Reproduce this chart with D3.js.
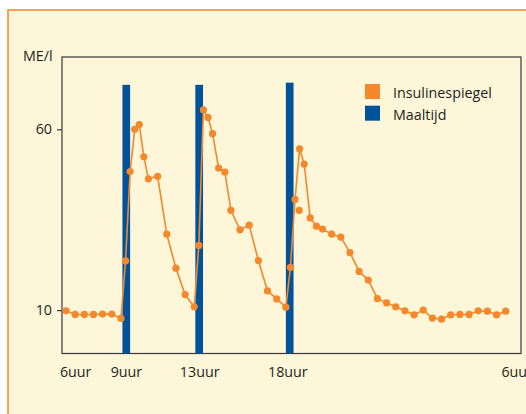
<!DOCTYPE html>
<html>
<head>
<meta charset="utf-8">
<script src="https://cdn.jsdelivr.net/npm/d3@7/dist/d3.min.js"></script>
<style>
  html, body { margin: 0; padding: 0; background: #ffffff; }
  svg { display: block; }
  text { font-family: "Open Sans", Lato, sans-serif; fill: #231f20; }
</style>
</head>
<body>
<svg id="chart" width="526" height="414"></svg>
<script>
// ---- data ----
const hours = [6, 6.5, 7, 7.5, 8, 8.5, 9, 9.25, 9.5, 9.75, 10, 10.25, 10.5, 11, 11.5, 12, 12.5,
  13, 13.25, 13.5, 13.75, 14, 14.33, 14.67, 15, 15.5, 16, 16.5, 17, 17.5,
  18, 18.25, 18.5, 18.75, 19, 19.33, 19.67, 20, 20.5, 21, 21.5, 22, 22.5, 23, 23.5,
  24, 24.5, 25, 25.5, 26, 26.5, 27, 27.5, 28, 28.5, 29, 29.5, 30];
const insuline = [9.8, 8.8, 8.8, 8.8, 8.9, 8.9, 7.7, 23.6, 48.3, 60.0, 61.3, 52.4, 46.3, 47.0, 31.0, 21.6, 14.3,
  10.9, 27.9, 65.4, 63.3, 58.8, 49.3, 48.2, 37.6, 32.2, 33.5, 23.7, 15.3, 13.1,
  10.8, 21.8, 40.6, 54.6, 50.4, 35.5, 33.2, 32.4, 31.0, 30.2, 25.9, 20.7, 18.3, 13.2, 12.0,
  10.9, 9.8, 8.7, 10.0, 7.8, 7.5, 8.7, 8.8, 8.8, 9.8, 9.7, 8.7, 9.7];
// a single measurement drawn as a loose dot (not joined by the line)
const extraHours = [18.73];
const extraValues = [37.6];

const mealHours = [9.08, 13.06, 18.0];
const mealHeights = [72.3, 72.3, 72.9];
const mealDuration = 0.42;

const yTicks = [10, 60];
const xTickHours = [6.5, 9.27, 13.27, 18.08, 30.6];
const xTickLabels = ["6uur", "9uur", "13uur", "18uur", "6uur"];
const legendLabels = ["Insulinespiegel", "Maaltijd"];
const yTitle = "ME/l";

// ---- style ----
const orange = "#f4882a";
const blue = "#00539b";
const cream = "#fdf6d9";
const axisColor = "#3a3a3a";
const fontSize = "14.3px";

const svg = d3.select("#chart");
const W = 526, H = 414;
const frame = { left: 62, top: 57, right: 521, bottom: 353.5 };

// outer panel
svg.append("rect").attr("x", 8).attr("y", 10).attr("width", W).attr("height", H)
  .attr("fill", cream).attr("stroke", orange).attr("stroke-width", 1.5);

const x = d3.scaleLinear().domain([6, 30]).range([66, 505.7]);
const y = d3.scaleLinear().domain([-2, 80]).range([frame.bottom, frame.top]);

// plot frame
svg.append("rect")
  .attr("x", frame.left).attr("y", frame.top)
  .attr("width", frame.right - frame.left).attr("height", frame.bottom - frame.top)
  .attr("fill", "none").attr("stroke", axisColor).attr("stroke-width", 1.2);

// meal bars
svg.append("g").selectAll("rect").data(mealHours).join("rect")
  .attr("x", d => x(d))
  .attr("width", d => x(d + mealDuration) - x(d))
  .attr("y", (d, i) => y(mealHeights[i]))
  .attr("height", (d, i) => y(-2) - y(mealHeights[i]))
  .attr("fill", blue);

// y axis
const yAxis = svg.append("g").attr("transform", `translate(${frame.left},0)`)
  .call(d3.axisLeft(y).tickValues(yTicks).tickSize(5).tickPadding(5).tickFormat(d3.format("d")));
yAxis.select(".domain").remove();
yAxis.selectAll(".tick line").attr("stroke", axisColor).attr("stroke-width", 1.2);
yAxis.selectAll(".tick text").style("font-size", fontSize).attr("fill", "#231f20")
  .style("font-family", "'Open Sans', sans-serif");

svg.append("text").attr("x", 23).attr("y", 61).style("font-size", fontSize).text(yTitle);

// x axis labels
const xAxis = svg.append("g").attr("transform", `translate(0,${frame.bottom})`)
  .call(d3.axisBottom(x).tickValues(xTickHours).tickSize(0).tickPadding(13)
    .tickFormat((d, i) => xTickLabels[i]));
xAxis.select(".domain").remove();
xAxis.selectAll(".tick text").style("font-size", fontSize).attr("fill", "#231f20")
  .style("font-family", "'Open Sans', sans-serif");

// insulin line + dots
const pts = hours.map((h, i) => [h, insuline[i]]);
svg.append("path").datum(pts)
  .attr("fill", "none").attr("stroke", orange).attr("stroke-width", 1.6)
  .attr("d", d3.line().x(d => x(d[0])).y(d => y(d[1])));
svg.append("g").selectAll("circle").data(pts).join("circle")
  .attr("cx", d => x(d[0])).attr("cy", d => y(d[1])).attr("r", 3.6).attr("fill", orange);
svg.append("g").selectAll("circle").data(extraHours).join("circle")
  .attr("cx", d => x(d)).attr("cy", (d, i) => y(extraValues[i])).attr("r", 3.6).attr("fill", orange);

// legend
const legend = svg.append("g").attr("transform", "translate(365,84)");
const lg = legend.selectAll("g").data(legendLabels).join("g")
  .attr("transform", (d, i) => `translate(0,${i * 21.7})`);
lg.append("rect").attr("width", 15).attr("height", 15)
  .attr("fill", (d, i) => i === 0 ? orange : blue);
lg.append("text").attr("x", 28).attr("y", 14).style("font-size", fontSize).text(d => d);
</script>
</body>
</html>
